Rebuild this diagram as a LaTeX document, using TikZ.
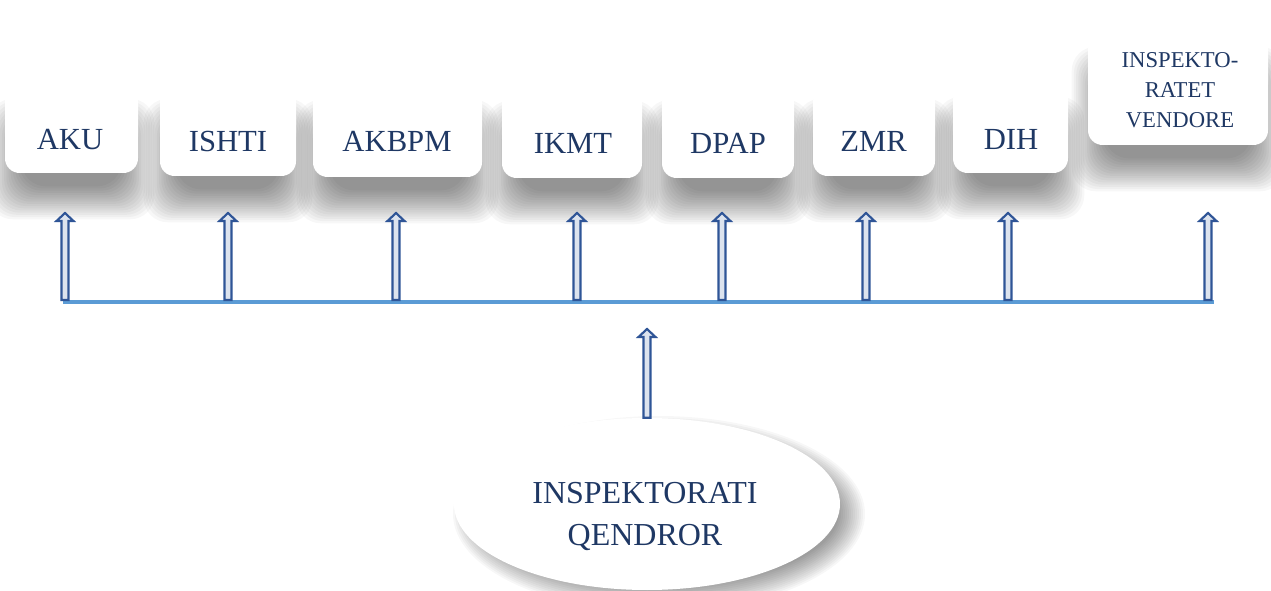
\documentclass[tikz,border=0pt]{standalone}
\usepackage{fontspec}
\setmainfont{Liberation Serif}
\usetikzlibrary{calc,fit,shapes.geometric}
\definecolor{navy}{HTML}{1F3864}
\definecolor{arrowblue}{HTML}{2F5597}
\definecolor{arrowfill}{HTML}{DCE3EE}
\definecolor{linecol}{HTML}{5B9BD5}
\pgfdeclarelayer{shadow}
\pgfsetlayers{shadow,main}
\tikzset{
  box/.style={fill=white, draw=none, rounded corners=11pt, inner sep=0pt},
  lbl/.style={text=navy, font=\fontsize{23}{27}\selectfont, inner sep=0pt},
  smalllbl/.style={text=navy, font=\fontsize{17}{22.5}\selectfont, align=center, inner sep=0pt},
  biglbl/.style={text=navy, font=\fontsize{24}{31.5}\selectfont, align=center, inner sep=0pt},
  oval/.style={ellipse, fill=white, draw=none, minimum width=289.5pt, minimum height=129pt, inner sep=0pt},
  shadowlayer/.style={black, opacity=0.03},
  hollow/.style={draw=arrowblue, fill=arrowfill, line width=1.6pt, line join=miter,
    to path={($(\tikztostart)+(-3.5,0)$) -- ($(\tikztotarget)+(-3.5,8)$) -- ($(\tikztotarget)+(-8.5,8)$)
      -- (\tikztotarget) -- ($(\tikztotarget)+(8.5,8)$) -- ($(\tikztotarget)+(3.5,8)$)
      -- ($(\tikztostart)+(3.5,0)$) -- cycle}},
  hline/.style={draw=linecol, line width=2.8pt},
}
\newcommand\boxshadow[1]{%
  \begin{pgfonlayer}{shadow}
    \foreach \k in {0,...,15}{
      \fill[shadowlayer, rounded corners=18pt]
        ($(#1.north west)+(-16+2.2*\k,12+2.2*\k)$) rectangle ($(#1.south east)+(16-2.2*\k,46-2.2*\k)$);
    }
  \end{pgfonlayer}}
\begin{document}
\begin{tikzpicture}[x=0.75pt,y=-0.75pt]
\useasboundingbox (0,0) rectangle (1271,591);
\clip (0,0) rectangle (1271,591);
\begin{pgfonlayer}{shadow}
\fill[white] (0,0) rectangle (1271,591);
\end{pgfonlayer}

% boxes
\node[box, fit={(5,87) (138,173)}] (aku) {};
\node[box, fit={(160,87) (296,176)}] (ishti) {};
\node[box, fit={(313,88) (482,177)}] (akbpm) {};
\node[box, fit={(502,89) (642,178)}] (ikmt) {};
\node[box, fit={(662,88) (794,178)}] (dpap) {};
\node[box, fit={(813,87) (935,176)}] (zmr) {};
\node[box, fit={(953,85) (1068,173)}] (dih) {};
\node[box, fit={(1088,35) (1268,145)}] (insp) {};
\foreach \n in {aku,ishti,akbpm,ikmt,dpap,zmr,dih,insp}{\boxshadow{\n}}

\node[lbl] (taku) at (70,140) {AKU};
\node[lbl] (tishti) at (228,142) {ISHTI};
\node[lbl] (takbpm) at (397,141) {AKBPM};
\node[lbl] (tikmt) at (573,143.5) {IKMT};
\node[lbl] (tdpap) at (728,143.5) {DPAP};
\node[lbl] (tzmr) at (873.5,141.5) {ZMR};
\node[lbl] (tdih) at (1011,139.5) {DIH};
\node[smalllbl] (tinsp) at (1180,90) {INSPEKTO-\\RATET\\VENDORE};

% ellipse
\node[oval] (iq) at (647,504) {};
\begin{pgfonlayer}{shadow}
  \foreach \k in {0,...,13}{
    \fill[shadowlayer] ($(iq.center)+(12,10)$) ellipse [x radius={(206-2*\k)*0.75pt}, y radius={(98-2*\k)*0.75pt}];
  }
\end{pgfonlayer}
\node[biglbl] (tiq) at (645,516) {INSPEKTORATI\\QENDROR};

% line
\coordinate (lineL) at (63,302);
\coordinate (lineR) at (1214,302);
\draw[hline] (lineL) -- (lineR);

% arrows
\foreach \i/\x in {1/65,2/228,3/396,4/577,5/722,6/866,7/1008,8/1208}{
  \coordinate (b\i) at (\x,300);
  \coordinate (t\i) at (\x,213);
  \draw[hollow] (b\i) to (t\i);
}
\coordinate (ct) at (647,329);
\draw[hollow] (iq.north) to (ct);
\end{tikzpicture}
\end{document}
